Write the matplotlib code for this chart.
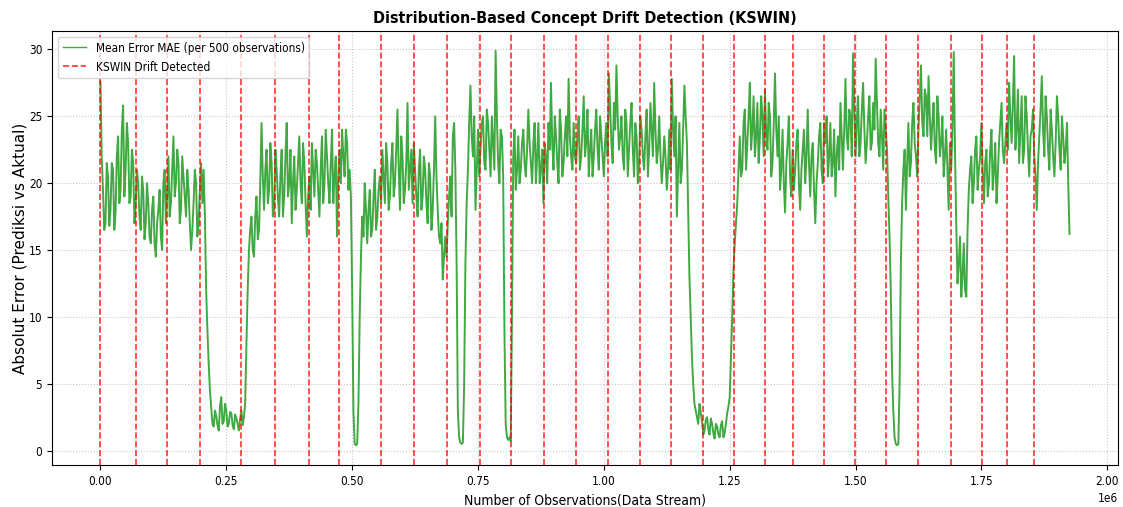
import numpy as np
import matplotlib
matplotlib.use("Agg")
import matplotlib.pyplot as plt

# mae_values: readings every 5000 observations; mae_between: readings taken halfway between them.
step_obs = 5000
mae_values = [
    27.6, 19.5, 17.0, 20.5, 18.0, 21.0, 17.8, 23.5, 19.5, 25.8, 21.0, 23.0, 19.0, 21.5, 18.5,
    20.0, 16.5, 19.5, 17.0, 18.5, 15.5, 19.0, 14.5, 18.0, 16.0, 20.0, 17.0,
    22.0, 18.5, 23.5, 20.0, 21.5, 18.0, 20.5, 17.5, 19.5, 15.0, 18.5, 20.0, 17.0, 21.5,
    21.0, 12.0, 6.5, 3.2, 1.8, 2.6, 1.5, 4.0, 2.2, 3.0, 2.0, 2.8, 1.6, 2.4, 1.5, 3.0, 2.5,
    8.0, 15.0, 17.5, 14.5, 19.0, 16.5, 24.5, 18.0, 22.5, 19.5, 21.5, 18.0,
    21.0, 17.5, 22.5, 19.0, 24.5, 20.0, 17.0, 22.0, 19.5, 23.5, 18.5, 21.5, 16.0, 20.5,
    23.0, 19.0, 21.5, 17.5, 23.5, 20.0, 22.0, 18.5, 24.0, 20.5, 16.0, 22.5,
    24.0, 20.5, 23.0, 21.0, 12.0, 0.5, 0.5, 10.0, 17.5, 20.0, 15.5, 19.5, 16.5, 21.0, 17.5, 20.5,
    22.5, 18.5, 21.5, 19.0, 23.0, 20.0, 25.5, 18.0, 22.0, 19.5, 26.0, 21.0, 18.5,
    21.0, 17.5, 22.5, 19.0, 21.0, 17.0, 20.5, 18.0, 25.0, 18.0, 15.5, 12.8, 16.0,
    17.0, 20.5, 23.5, 21.0, 3.0, 0.6, 0.6, 14.0, 21.0, 27.3, 22.0, 18.0, 24.0,
    22.5, 25.0, 21.0, 24.5, 20.5, 23.0, 29.9, 21.5, 24.0, 20.5, 2.0, 0.8, 0.7, 22.0,
    19.5, 23.5, 21.0, 24.0, 20.5, 25.5, 21.5, 23.0, 20.0, 24.5, 21.0, 18.5,
    22.0, 24.5, 27.5, 21.0, 23.5, 20.0, 24.0, 21.5, 25.0, 27.8, 22.0, 24.5,
    21.5, 25.0, 22.0, 26.5, 23.0, 20.5, 24.0, 22.0, 25.5, 21.0, 23.5, 20.5, 24.5,
    28.2, 23.0, 26.0, 28.8, 22.5, 25.0, 21.0, 24.5, 22.5, 26.0, 20.5, 23.5, 21.5,
    24.0, 21.0, 25.5, 22.5, 24.0, 27.5, 21.5, 25.0, 20.0, 23.5, 19.5, 24.0,
    27.8, 22.0, 17.5, 24.5, 21.0, 27.3, 23.0, 13.0, 7.0, 3.5, 2.5, 3.5, 2.2,
    1.5, 2.5, 1.2, 2.0, 0.9, 1.8, 1.0, 2.2, 1.3, 2.8, 4.0, 10.0,
    15.5, 18.5, 23.5, 21.0, 25.5, 23.0, 27.5, 24.0, 22.0, 26.0, 23.5, 25.0, 27.0,
    22.5, 25.0, 21.5, 28.2, 22.0, 19.5, 24.0, 17.8, 23.0, 20.5, 22.5,
    21.0, 24.0, 18.0, 22.5, 20.0, 25.5, 19.0, 23.0, 17.0, 21.5, 24.5, 20.0,
    23.0, 20.5, 24.5, 21.5, 19.0, 23.5, 26.0, 21.0, 27.8, 22.5, 25.0, 29.7, 22.0,
    26.5, 23.0, 27.5, 21.5, 25.0, 22.5, 26.0, 29.3, 23.0, 25.5, 21.0, 24.0, 19.0,
    12.0, 3.0, 0.5, 0.5, 14.0, 21.0, 18.0, 24.5, 21.5, 26.0, 22.0, 24.0,
    28.8, 23.5, 26.5, 28.0, 22.5, 26.0, 21.5, 25.0, 23.0, 20.5, 24.0, 18.0,
    21.0, 29.8, 17.0, 14.0, 11.5, 15.5, 11.5, 19.5, 22.0, 20.0, 23.5, 21.0, 24.5,
    18.5, 22.5, 20.0, 24.0, 21.0, 18.5, 23.0, 26.0, 21.5, 24.5,
    27.5, 23.0, 29.5, 24.0, 21.5, 26.5, 22.5, 25.0, 20.5, 24.0, 22.0,
    18.0, 23.5, 28.0, 22.0, 25.0, 21.0, 24.0, 20.5, 26.5, 22.5, 25.0, 21.5, 24.5, 16.2,
]
mae_between = [
    22.0, 16.5, 21.5, 16.8, 21.5, 16.5, 22.0, 18.5, 24.0, 19.0, 24.5, 18.5, 22.5, 17.0,
    21.0, 17.5, 20.5, 15.8, 20.0, 16.0, 18.0, 15.5, 17.0, 19.5, 15.0, 21.0,
    19.0, 17.5, 21.0, 19.0, 22.5, 17.0, 22.0, 19.0, 21.0, 17.0, 16.5, 21.0, 16.0, 19.5,
    18.5, 17.5, 9.0, 4.5, 2.0, 3.0, 1.9, 3.3, 2.0, 3.5, 1.8, 2.9, 1.9, 2.7, 2.0, 2.4, 1.9,
    3.5, 12.0, 16.5, 15.0, 17.5, 15.8, 20.0, 20.5, 21.0, 18.5, 23.0, 17.5,
    22.5, 19.0, 20.5, 17.5, 22.0, 19.0, 22.5, 20.0, 18.0, 21.5, 20.0, 23.0, 18.5, 19.0,
    18.0, 21.0, 22.5, 19.5, 21.0, 18.5, 24.0, 20.0, 21.5, 18.5, 22.0, 20.5,
    20.0, 22.0, 24.0, 19.5, 19.0, 3.0, 0.4, 3.5, 14.5, 16.0, 18.0, 18.0, 16.0, 19.0, 16.5, 19.5,
    18.5, 20.5, 23.0, 18.0, 21.5, 19.0, 22.5, 21.0, 23.5, 18.5, 21.5, 19.5, 22.5,
    23.0, 19.0, 21.0, 18.0, 22.0, 18.5, 21.5, 16.5, 21.0, 20.5, 16.0, 17.0, 14.5,
    14.5, 19.0, 17.5, 24.5, 14.0, 1.0, 0.5, 5.0, 18.5, 24.5, 23.5, 25.0, 21.0,
    20.5, 24.5, 21.5, 25.5, 22.5, 25.0, 21.0, 25.0, 20.0, 23.5, 9.0, 1.0, 1.0, 10.0,
    24.0, 21.0, 20.0, 23.0, 21.5, 22.5, 23.0, 20.0, 24.5, 22.0, 20.0, 22.5,
    23.0, 20.0, 22.5, 23.0, 25.0, 21.5, 25.5, 20.5, 23.5, 22.0, 23.5, 21.0,
    22.0, 23.5, 21.0, 24.0, 22.0, 25.5, 22.5, 20.5, 24.0, 22.5, 25.0, 22.0, 23.0,
    22.0, 25.5, 21.5, 24.0, 25.0, 23.5, 22.0, 25.5, 20.5, 24.5, 22.5, 24.5, 20.0,
    25.0, 22.0, 23.5, 20.5, 26.0, 22.0, 24.0, 22.5, 22.0, 21.5, 22.0, 21.0,
    21.0, 24.0, 25.0, 21.0, 20.0, 24.0, 25.0, 18.0, 10.0, 5.0, 3.0, 2.0, 2.8,
    1.2, 2.3, 1.6, 2.4, 1.3, 2.0, 1.2, 1.9, 1.0, 2.0, 3.3, 7.0,
    13.5, 17.0, 21.0, 20.5, 24.5, 21.0, 25.0, 22.5, 26.5, 23.5, 21.5, 26.5, 22.0,
    23.5, 26.0, 20.5, 24.5, 24.0, 25.0, 21.0, 20.0, 21.5, 25.0, 19.0,
    19.5, 23.0, 20.0, 21.0, 24.0, 22.0, 21.5, 22.0, 19.5, 20.0, 23.5, 21.0, 24.5,
    25.0, 22.0, 20.5, 24.0, 22.0, 21.0, 23.5, 24.0, 23.5, 25.5, 22.0, 26.0,
    24.5, 22.0, 25.5, 24.0, 23.0, 26.5, 23.0, 24.0, 26.0, 22.0, 23.5, 25.5, 22.5,
    16.0, 6.0, 1.0, 0.4, 5.0, 18.5, 22.5, 21.5, 20.5, 24.5, 23.0, 20.5,
    26.5, 24.5, 27.0, 23.5, 25.0, 24.5, 22.5, 26.5, 22.0, 25.0, 22.0, 21.0,
    23.0, 24.0, 22.5, 12.5, 16.0, 13.0, 12.0, 16.5, 21.0, 18.5, 22.5, 19.5, 22.0,
    21.0, 21.5, 19.0, 22.5, 19.5, 23.0, 20.5, 24.5, 22.5, 23.0,
    22.5, 25.0, 26.0, 22.5, 27.0, 24.0, 21.5, 26.5, 22.5, 23.5, 25.5,
    20.5, 21.5, 25.5, 24.0, 26.5, 22.5, 25.5, 22.0, 23.0, 25.0, 21.0, 23.5, 22.5, 20.0,
]

# Observation index at which KSWIN flagged a drift
drift_points = [
    0, 70000, 132500, 198000, 279000, 346500, 414000, 474000, 557000, 622500,
    688500, 754000, 815500, 881500, 944000, 1008500, 1071000, 1133000, 1197000,
    1258000, 1319500, 1376000, 1438000, 1499000, 1561000, 1624500, 1689000,
    1750500, 1800000, 1855000,
]

title = "Distribution-Based Concept Drift Detection (KSWIN)"
xlabel = "Number of Observations(Data Stream)"
ylabel = "Absolut Error (Prediksi vs Aktual)"
line_label = "Mean Error MAE (per 500 observations)"
drift_label = "KSWIN Drift Detected"

plt.rcParams["font.family"] = ["DejaVu Sans"]
plt.rcParams["font.stretch"] = "condensed"

# merge the two sets of readings into one series in stream order
series = np.empty(len(mae_values) + len(mae_between))
series[0::2] = mae_values
series[1::2] = mae_between
x = np.arange(len(series)) * (step_obs // 2)

fig = plt.figure(figsize=(11.23, 5.07), dpi=100)
ax = fig.add_axes([0.0463, 0.0828, 0.9492, 0.8561])

ax.plot(x, series, color="#2ca02c", linewidth=1.4, alpha=0.9, label=line_label)

for i, d in enumerate(drift_points):
    ax.axvline(d, color="red", linestyle="--", linewidth=1.2, alpha=0.8,
               label=drift_label if i == 0 else None)

ax.set_title(title, fontsize=11.5, fontweight="bold", stretch="condensed")
ax.set_xlabel(xlabel, fontsize=10, stretch="condensed")
ax.set_ylabel(ylabel, fontsize=11, stretch="normal", labelpad=1)
ax.tick_params(labelsize=8.5)
ax.grid(True, linestyle=":", color="#bbbbbb", linewidth=0.8, alpha=0.8)
leg = ax.legend(loc="upper left", fontsize=8.5)
for h in leg.legend_handles[:1]:
    h.set_linewidth(1.0)
ax.xaxis.get_offset_text().set_fontsize(8.5)

fig.savefig("out.png", dpi=100)
